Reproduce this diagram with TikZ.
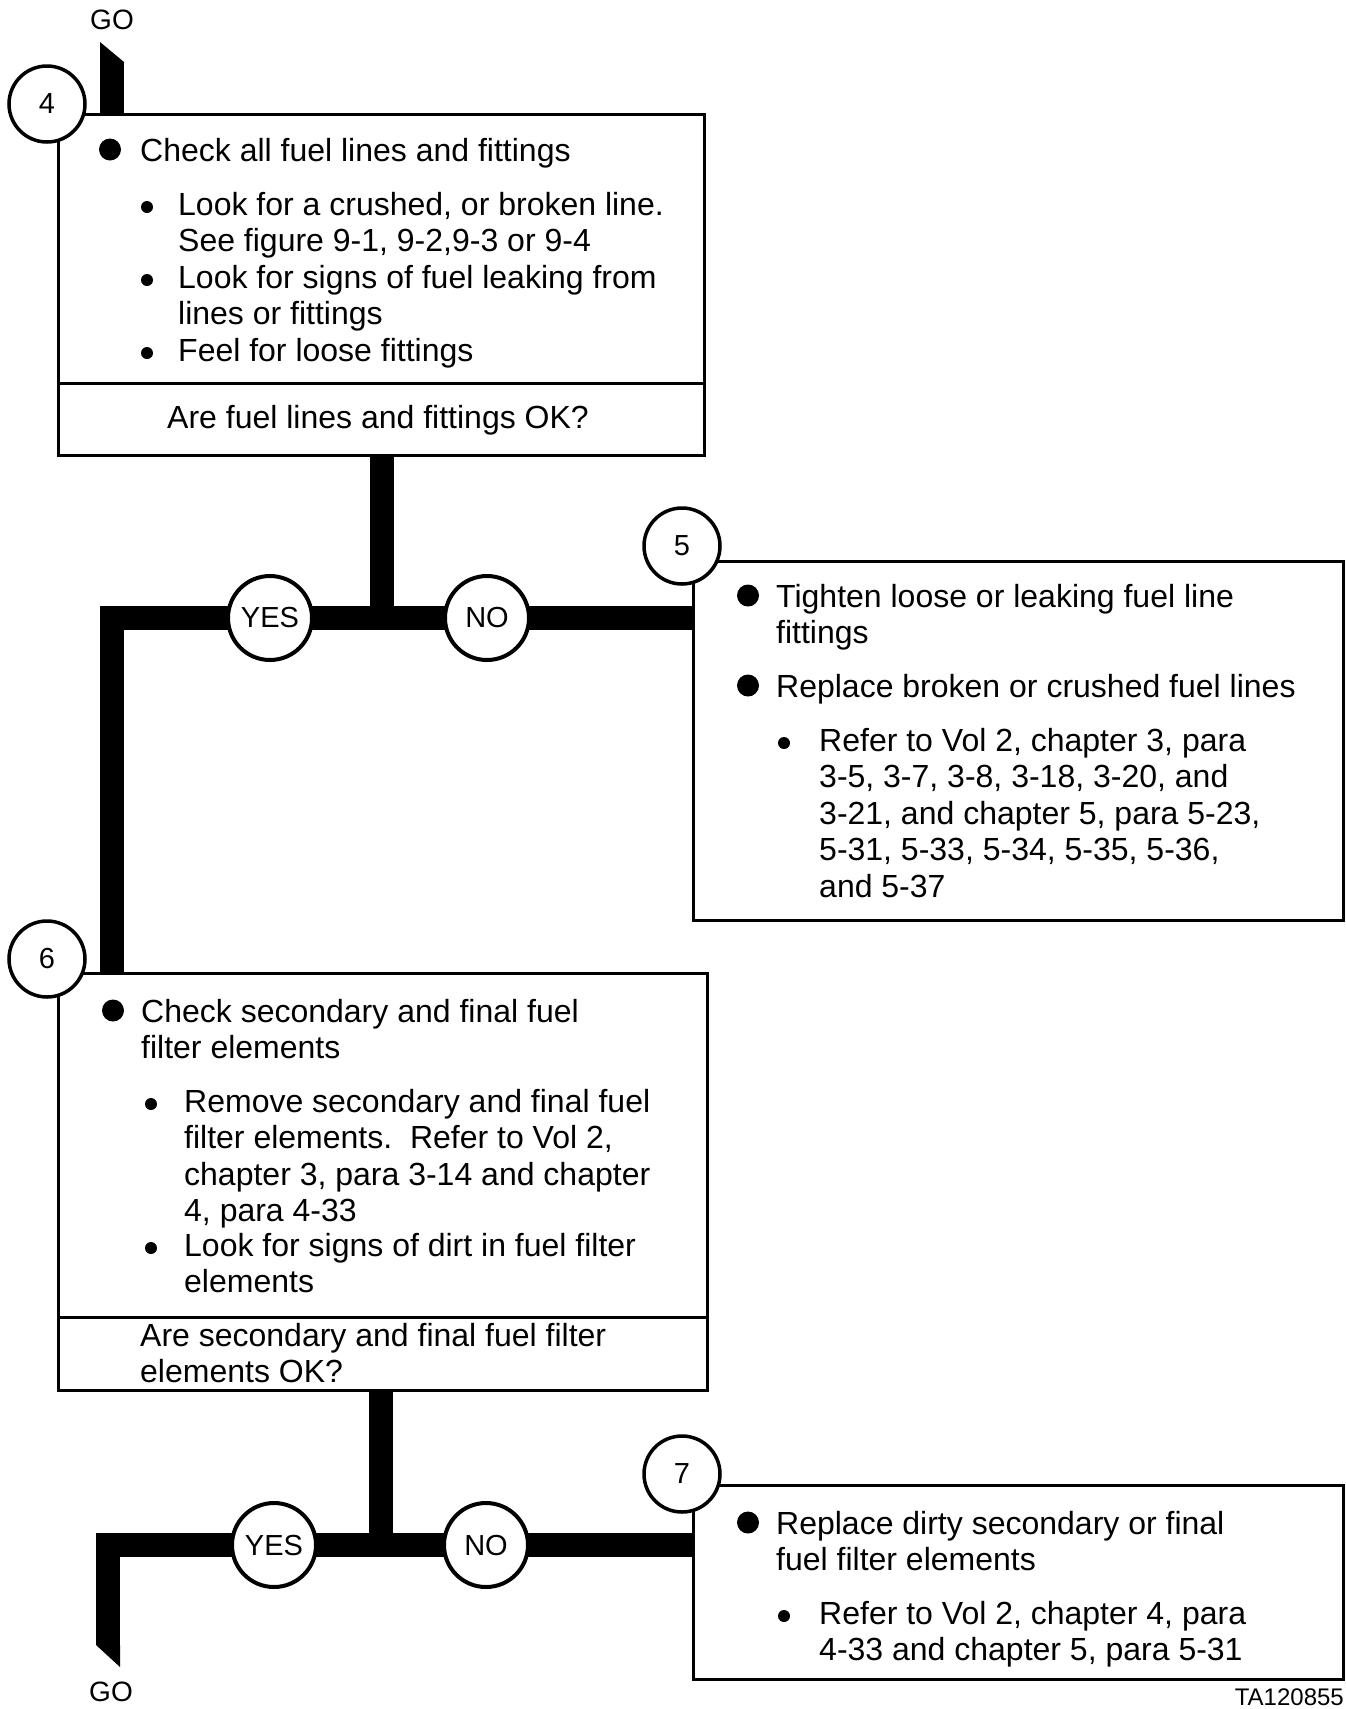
\documentclass[tikz,border=0pt]{standalone}
\usepackage{fontspec}
\setmainfont{Liberation Sans}

\tikzset{
  panel/.style={draw, line width=3pt, inner sep=0pt},
  bar/.style={line width=24pt},
  numring/.style={circle, draw, line width=3.5pt, fill=white, minimum size=76pt, inner sep=0pt, font=\fontsize{29}{30}\selectfont},
  answer/.style={circle, draw, line width=4pt, fill=white, minimum size=84pt, inner sep=0pt, font=\fontsize{29}{30}\selectfont},
  txt/.style={anchor=base west, inner sep=0pt, align=left, font=\fontsize{32}{36.5}\selectfont},
  golabel/.style={inner sep=0pt, font=\fontsize{28}{30}\selectfont},
  bigdot/.style={circle, fill, inner sep=0pt, minimum size=22pt},
  dot/.style={circle, fill, inner sep=0pt, minimum size=12pt},
}

\begin{document}
\begin{tikzpicture}[x=1pt, y=-1pt]
	\useasboundingbox (0,0) rectangle (1345,1709);
	% step 4
	\node[panel, minimum width=646pt, minimum height=269pt] (b4) at (381,248.5) {};
	\node[panel, minimum width=646pt, minimum height=72pt] (q4) at (381,419) {};
	\node[golabel] (go1) at (112,20) {GO};
	\coordinate (s4) at (112,62);
	\draw[bar] (s4) -- (s4 |- b4.north);
	\fill (s4) ++(-12,0) -- ++(0,-20) -- ++(24,20) -- cycle;
	\node[numring] (c4) at (47,104) {4};
	% step 5
	\node[panel, minimum width=650pt, minimum height=359pt] (b5) at (1018,740.5) {};
	\node[numring] (c5) at (682,546) {5};
	% step 6
	\node[panel, minimum width=649pt, minimum height=344pt] (b6) at (382.5,1145) {};
	\node[panel, minimum width=649pt, minimum height=73pt] (q6) at (382.5,1353.5) {};
	\node[numring] (c6) at (47,959) {6};
	% step 7
	\node[panel, minimum width=650pt, minimum height=194pt] (b7) at (1018,1582) {};
	\node[numring] (c7) at (682,1474) {7};
	% first branch
	\coordinate (j1) at (382,618);
	\coordinate (k1) at (112,618);
	\draw[bar] (q4.south -| j1) -- (j1);
	\draw[bar] (b5.west |- j1) -- (k1) -- (k1 |- b6.north);
	\node[answer] (y1) at (270,618) {YES};
	\node[answer] (n1) at (487,618) {NO};
	% second branch
	\coordinate (j2) at (381,1545);
	\coordinate (k2) at (108,1545);
	\coordinate (e2) at (108,1645);
	\draw[bar] (q6.south -| j2) -- (j2);
	\draw[bar] (b7.west |- j2) -- (k2) -- (e2);
	\fill (e2) ++(-12,0) -- ++(24,22) -- ++(0,-22) -- cycle;
	\node[answer] (y2) at (274,1545) {YES};
	\node[answer] (n2) at (486,1545) {NO};
	\node[golabel] (go2) at (111,1692) {GO};
	\node[golabel, anchor=base east, font=\fontsize{24}{26}\selectfont] (ta) at (1344,1705) {TA120855};
	% texts of step 4 (base = last line)
	\node[bigdot] (d41) at (110,149.5) {};
	\node[txt] (t41) at (140,161) {Check all fuel lines and fittings};
	\node[dot] (d42) at (147,207) {};
	\node[txt] (t42) at (178,251.5) {Look for a crushed, or broken line.\\See figure 9-1, 9-2,9-3 or 9-4};
	\node[dot] (d43) at (147,280) {};
	\node[txt] (t43) at (178,324.5) {Look for signs of fuel leaking from\\lines or fittings};
	\node[dot] (d44) at (147,353) {};
	\node[txt] (t44) at (178,361) {Feel for loose fittings};
	\node[txt, anchor=base] (t45) at (378,428) {Are fuel lines and fittings OK?};
	% texts of step 5
	\node[bigdot] (d51) at (748,595.5) {};
	\node[txt] (t51) at (776,643.5) {Tighten loose or leaking fuel line\\fittings};
	\node[bigdot] (d52) at (748,685.5) {};
	\node[txt] (t52) at (776,697) {Replace broken or crushed fuel lines};
	\node[dot] (d53) at (784,743) {};
	\node[txt] (t53) at (819,897) {Refer to Vol 2, chapter 3, para\\3-5, 3-7, 3-8, 3-18, 3-20, and\\3-21, and chapter 5, para 5-23,\\5-31, 5-33, 5-34, 5-35, 5-36,\\and 5-37};
	% texts of step 6
	\node[bigdot] (d61) at (113,1010.5) {};
	\node[txt] (t61) at (141,1058.5) {Check secondary and final fuel\\filter elements};
	\node[dot] (d62) at (151,1104) {};
	\node[txt] (t62) at (184,1221.5) {Remove secondary and final fuel\\filter elements.\ \ Refer to Vol 2,\\chapter 3, para 3-14 and chapter\\4, para 4-33};
	\node[dot] (d63) at (151,1248) {};
	\node[txt] (t63) at (184,1292.5) {Look for signs of dirt in fuel filter\\elements};
	\node[txt] (t64) at (140,1382.5) {Are secondary and final fuel filter\\elements OK?};
	% texts of step 7
	\node[bigdot] (d71) at (748,1522.5) {};
	\node[txt] (t71) at (776,1570.5) {Replace dirty secondary or final\\fuel filter elements};
	\node[dot] (d72) at (784,1616) {};
	\node[txt] (t72) at (819,1660.5) {Refer to Vol 2, chapter 4, para\\4-33 and chapter 5, para 5-31};
\end{tikzpicture}
\end{document}
